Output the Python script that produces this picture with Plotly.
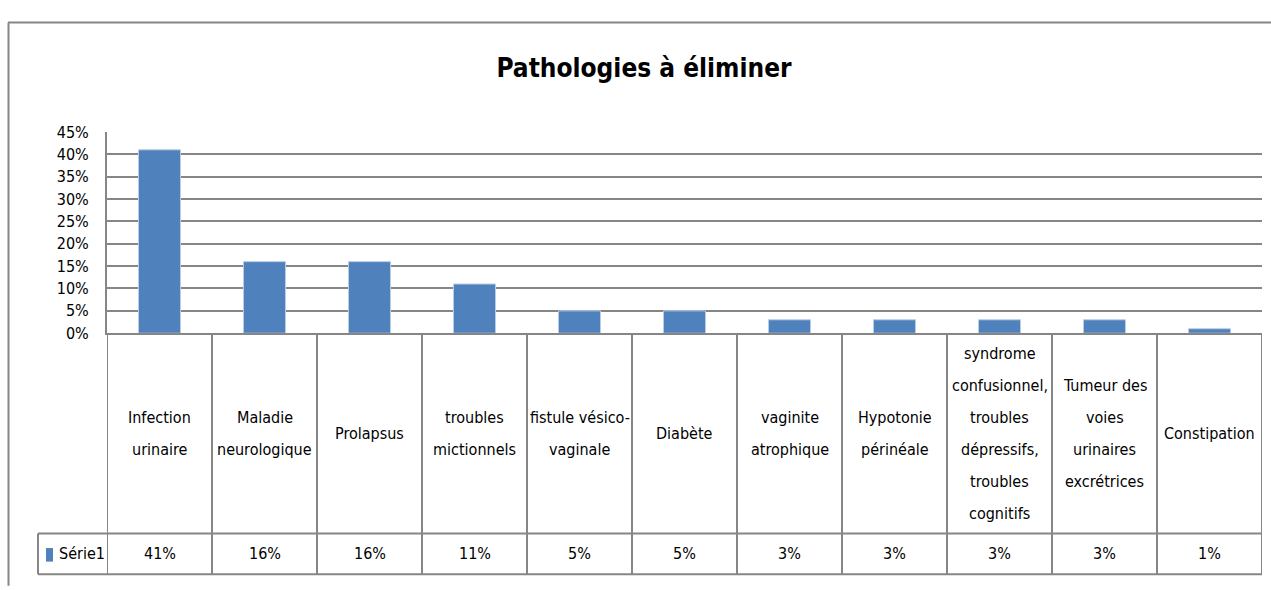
import plotly.graph_objects as go

# ---- data ----
categories = [
    "Infection\nurinaire",
    "Maladie\nneurologique",
    "Prolapsus",
    "troubles\nmictionnels",
    "fistule vésico-\nvaginale",
    "Diabète",
    "vaginite\natrophique",
    "Hypotonie\npérinéale",
    "syndrome\nconfusionnel,\ntroubles\ndépressifs,\ntroubles\ncognitifs",
    "Tumeur des\nvoies\nurinaires\nexcrétrices",
    "Constipation",
]
values = [0.41, 0.16, 0.16, 0.11, 0.05, 0.05, 0.03, 0.03, 0.03, 0.03, 0.01]
series_name = "Série1"
title_text = "Pathologies à éliminer"
y_ticks = [0, 0.05, 0.10, 0.15, 0.20, 0.25, 0.30, 0.35, 0.40, 0.45]

# ---- layout constants (pixels) ----
W, H = 1271, 590
PX_L, PX_R = 107, 1262          # plot / table horizontal extent
PY_TOP, PY_ZERO = 127, 335      # 45% line and 0% line
PY_SEP, PY_BOT = 542, 584       # row separator and table bottom
PX_TBL_L = 38                   # left edge of the series-name cell
LINE_SP = 33                    # line spacing of category text

FONT = "DejaVu Sans Condensed, Liberation Sans Narrow, Roboto, sans-serif"
GRID = "#868686"
BAR = "#4F81BD"


def px(x):
    return x / W


def py(y):
    return 1 - y / H


n = len(categories)
x_idx = list(range(n))

fig = go.Figure()
fig.add_trace(go.Bar(
    x=x_idx, y=values, marker=dict(color=BAR, line=dict(color="#B9CDE5", width=1)),
    name=series_name, showlegend=False, hoverinfo="y",
))

shapes = []
line_style = dict(color=GRID, width=2)

# outer chart frame (top and left)
shapes.append(dict(type="line", xref="paper", yref="paper", x0=px(8), x1=1.01, y0=py(14), y1=py(14), line=line_style))
shapes.append(dict(type="line", xref="paper", yref="paper", x0=px(8.5), x1=px(8.5), y0=-0.01, y1=py(14), line=line_style))

# table vertical lines at category boundaries
for i in range(n + 1):
    shapes.append(dict(type="line", xref="x", yref="paper", x0=i - 0.5, x1=i - 0.5,
                       y0=py(PY_BOT), y1=py(PY_ZERO), line=line_style))
# table horizontal lines
for yy in (PY_SEP, PY_BOT):
    shapes.append(dict(type="line", xref="paper", yref="paper", x0=px(PX_TBL_L), x1=px(PX_R),
                       y0=py(yy), y1=py(yy), line=line_style))
# left edge of series-name cell
shapes.append(dict(type="line", xref="paper", yref="paper", x0=px(PX_TBL_L), x1=px(PX_TBL_L),
                   y0=py(PY_BOT), y1=py(PY_SEP), line=line_style))
# legend key
shapes.append(dict(type="rect", xref="paper", yref="paper", x0=px(46), x1=px(53),
                   y0=py(571), y1=py(557), fillcolor=BAR, line=dict(width=0)))

annotations = []
row_center = (PY_ZERO + PY_SEP) / 2
for i, label in enumerate(categories):
    lines = label.split("\n")
    k = len(lines)
    for j, ln in enumerate(lines):
        yc = row_center + (j - (k - 1) / 2) * LINE_SP
        annotations.append(dict(x=i, xref="x", y=py(yc), yref="paper", text=ln, showarrow=False,
                                xanchor="center", yanchor="middle",
                                font=dict(family=FONT, size=16, color="#000")))
val_y = (PY_SEP + PY_BOT) / 2
for i, v in enumerate(values):
    annotations.append(dict(x=i, xref="x", y=py(val_y), yref="paper", text=f"{round(v * 100)}%",
                            showarrow=False, xanchor="center", yanchor="middle",
                            font=dict(family=FONT, size=16, color="#000")))
annotations.append(dict(x=px(57), xref="paper", y=py(val_y), yref="paper", text=series_name,
                        showarrow=False, xanchor="left", yanchor="middle",
                        font=dict(family=FONT, size=16, color="#000")))

fig.update_layout(
    width=W, height=H, autosize=False,
    margin=dict(l=0, r=0, t=0, b=0),
    paper_bgcolor="white", plot_bgcolor="white",
    bargap=0.6,
    title=dict(text=f"<b>{title_text}</b>", x=px(644), y=py(68), xanchor="center", yanchor="middle",
               font=dict(family=FONT, size=26, color="#000")),
    xaxis=dict(domain=[px(PX_L), px(PX_R)], range=[-0.5, n - 0.5], showticklabels=False,
               showgrid=False, zeroline=False, showline=True, linecolor=GRID, linewidth=2,
               ticks="", fixedrange=True),
    yaxis=dict(domain=[py(PY_ZERO), py(PY_TOP)], range=[0, 0.45], tickvals=y_ticks,
               tickformat=".0%", showgrid=True, gridcolor=GRID, gridwidth=2, zeroline=False,
               showline=True, linecolor=GRID, linewidth=2, ticks="", ticklabelstandoff=13,
               tickfont=dict(family=FONT, size=16, color="#000"), fixedrange=True),
    shapes=shapes, annotations=annotations,
)

post = (
    "document.documentElement.style.margin='0';"
    "document.documentElement.style.overflow='hidden';"
    "document.body.style.margin='0';"
    "document.body.style.padding='0';"
    "document.body.style.overflow='hidden';"
    "var gd=document.querySelector('.plotly-graph-div');"
    "gd.style.position='absolute';gd.style.top='0px';gd.style.left='0px';"
)

fig.write_html(
    "out.html",
    config={"responsive": False, "displayModeBar": False},
    post_script=post,
)
